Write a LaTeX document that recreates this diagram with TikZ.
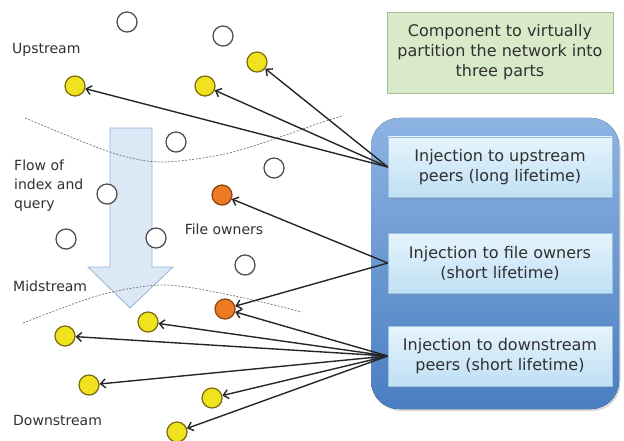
\documentclass[tikz,border=0pt]{standalone}
\usepackage{fontspec}
\setmainfont{DejaVu Sans}
\usetikzlibrary{arrows.meta,shadows}

\definecolor{peeryellow}{HTML}{F0E21E}
\definecolor{yellowline}{HTML}{7A6E0C}
\definecolor{ownerorange}{HTML}{EE7A24}
\definecolor{orangeline}{HTML}{8A4212}
\definecolor{panelbot}{HTML}{4A7EC2}
\definecolor{paneltop}{HTML}{8DB3E2}
\definecolor{injtop}{HTML}{E6F4FC}
\definecolor{injbot}{HTML}{BFE0F4}
\definecolor{injline}{HTML}{9CC2DE}
\definecolor{compfill}{HTML}{D8EAC8}
\definecolor{compline}{HTML}{A6BD92}
\definecolor{flowfill}{HTML}{DCE8F6}
\definecolor{flowline}{HTML}{96B4D8}
\definecolor{textgray}{HTML}{303030}

\begin{document}
\begin{tikzpicture}[x=1pt,y=-1pt,
  peer/.style={circle,draw=black!70,fill=white,minimum size=20pt,inner sep=0pt,line width=1.2pt,
    drop shadow={opacity=0.2,shadow xshift=0.8pt,shadow yshift=-0.8pt}},
  upper/.style={peer,fill=peeryellow,draw=yellowline},
  owner/.style={peer,fill=ownerorange,draw=orangeline},
  zone/.style={font=\fontsize{14}{19}\selectfont,align=left,text=textgray,inner sep=0pt},
  inject/.style={draw=injline,top color=injtop,bottom color=injbot,minimum width=224pt,
    minimum height=60pt,align=center,text=textgray,font=\fontsize{16}{20}\selectfont,
    drop shadow={opacity=0.25,shadow xshift=1pt,shadow yshift=-1.5pt}},
  push/.style={-{Straight Barb[length=5pt,width=9pt]},line width=1.4pt,draw=black!85}]
   \useasboundingbox (0,0) rectangle (624,441);

   %% Panel
   \fill[top color=paneltop,bottom color=panelbot,rounded corners=28pt,
     drop shadow={opacity=0.3,shadow xshift=1.5pt,shadow yshift=-2pt}]
     (371,118) rectangle (619,409);
   \node[draw=compline,fill=compfill,minimum width=226pt,minimum height=81pt,align=center,
     text=textgray,font=\fontsize{16}{20}\selectfont,
     drop shadow={opacity=0.25,shadow xshift=1pt,shadow yshift=-1.5pt}] (comp) at (500,52.5)
     {Component to virtually\\partition the network into\\three parts};
   \node[inject] (inj1) at (500,167) {Injection to upstream\\peers (long lifetime)};
   \node[inject] (inj2) at (500,263) {Injection to file owners\\(short lifetime)};
   \node[inject] (inj3) at (500,356) {Injection to downstream\\peers (short lifetime)};

   %% Flow
   \filldraw[fill=flowfill,draw=flowline,line width=0.8pt]
     (110,128) -- (152,128) -- (152,267) -- (173,267) -- (130,308) -- (88,267) -- (110,267) -- cycle;
   \draw[black!55,dash pattern=on 2pt off 1.5pt,line width=0.7pt]
     plot[smooth] coordinates {(25,118) (110,152) (162,162) (233,152) (320,123) (342,116)};
   \draw[black!55,dash pattern=on 2pt off 1.5pt,line width=0.7pt]
     plot[smooth] coordinates {(23,323) (100,295) (165,285) (235,296) (302,312)};

   %% Peers
   \node[peer] (w1) at (127,22) {};
   \node[peer] (w2) at (223,36) {};
   \node[peer] (w3) at (176,142) {};
   \node[peer] (w4) at (274,168) {};
   \node[peer] (w5) at (107,194) {};
   \node[peer] (w6) at (66,239) {};
   \node[peer] (w7) at (156,238) {};
   \node[peer] (w8) at (245,265) {};

   \node[upper] (u1) at (75,86) {};
   \node[upper] (u2) at (205,86) {};
   \node[upper] (u3) at (257,62) {};

   \node[owner] (o1) at (222,195) {};
   \node[owner] (o2) at (225,309) {};

   \node[upper] (d1) at (148,322) {};
   \node[upper] (d2) at (65,336) {};
   \node[upper] (d3) at (89,385) {};
   \node[upper] (d4) at (212,398) {};
   \node[upper] (d5) at (177,432) {};

   %% Injection
   \draw[push] (inj1.west) -- (u1);
   \draw[push] (inj1.west) -- (u2);
   \draw[push] (inj1.west) -- (u3);
   \draw[push] (inj2.west) -- (o1);
   \draw[push] (inj2.west) -- (o2);
   \draw[push] (inj3.west) -- (o2);
   \draw[push] (inj3.west) -- (d1);
   \draw[push] (inj3.west) -- (d2);
   \draw[push] (inj3.west) -- (d3);
   \draw[push] (inj3.west) -- (d4);
   \draw[push] (inj3.west) -- (d5);

   %% Labels
   \node[zone,anchor=west] (up) at (12,50) {Upstream};
   \node[zone,anchor=west] (flow) at (14,186) {Flow of\\index and\\query};
   \node[zone] (own) at (224,229) {File owners};
   \node[zone,anchor=west] (mid) at (13,286) {Midstream};
   \node[zone,anchor=west] (down) at (13,420) {Downstream};
\end{tikzpicture}
\end{document}
